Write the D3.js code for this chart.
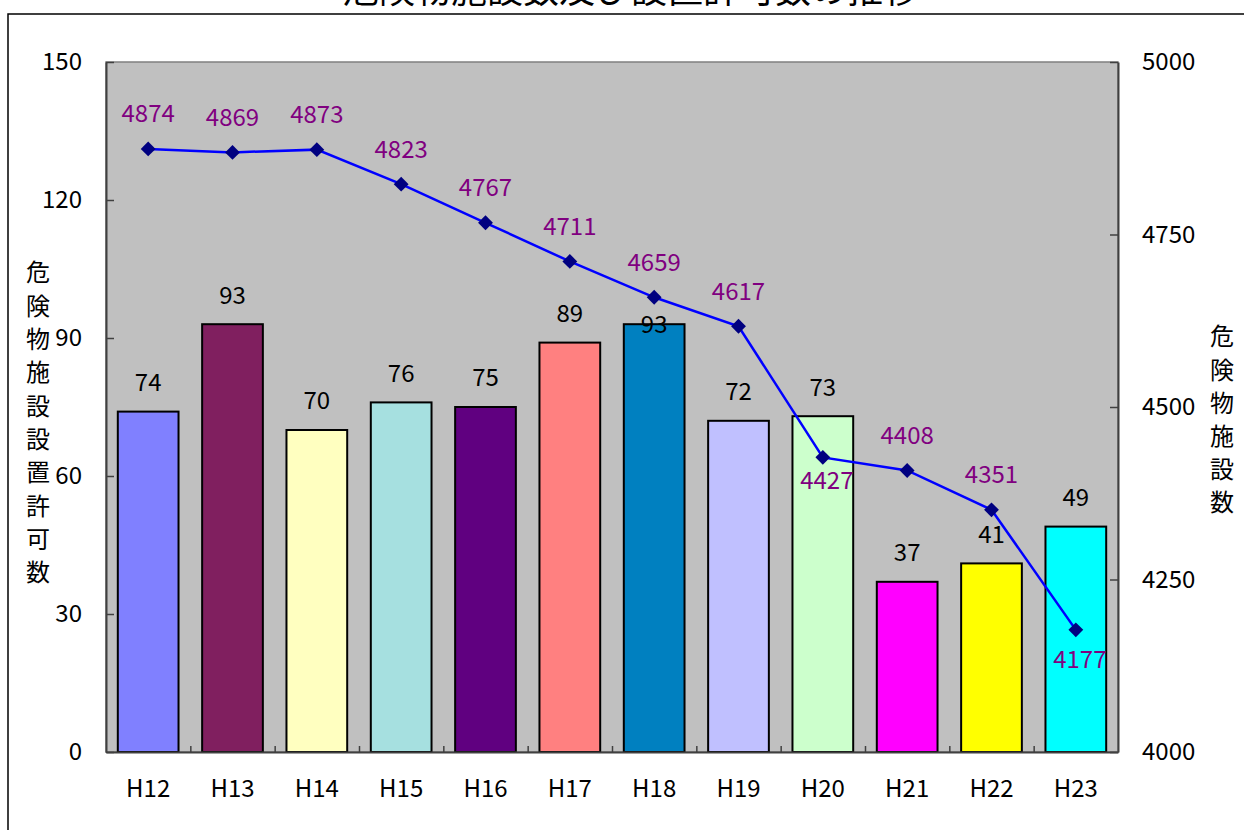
<!DOCTYPE html>
<html>
<head>
<meta charset="utf-8">
<script src="https://cdn.jsdelivr.net/npm/d3@7"></script>
<style>
  body { margin: 0; background: #fff; }
  text { font-family: "Noto Sans CJK JP", "Noto Sans", sans-serif; }
</style>
</head>
<body>
<svg id="chart" width="1244" height="830"></svg>
<script>
// data
var years = ["H12","H13","H14","H15","H16","H17","H18","H19","H20","H21","H22","H23"];
var permits = [74, 93, 70, 76, 75, 89, 93, 72, 73, 37, 41, 49];
var facilities = [4874, 4869, 4873, 4823, 4767, 4711, 4659, 4617, 4427, 4408, 4351, 4177];
var barColors = ["#8080ff","#801f5f","#ffffc0","#a6e0e0","#600080","#ff8080",
                 "#0080c0","#c0c0ff","#ccffcc","#ff00ff","#ffff00","#00ffff"];
var leftTicks = [0, 30, 60, 90, 120, 150];
var rightTicks = [4000, 4250, 4500, 4750, 5000];

var svg = d3.select("#chart");
var plotLeft = 106, plotRight = 1118, plotTop = 62, plotBottom = 752;
var fontSize = "24px";

// outer chart frame (runs past the picture edge)
svg.append("rect")
	.attr("x", 8).attr("y", 14)
	.attr("width", 1300).attr("height", 900)
	.attr("fill", "#fff")
	.attr("stroke", "#000")
	.attr("stroke-width", 1.5);

// title, mostly cut off at the top
svg.append("text")
	.attr("x", 631).attr("y", 3)
	.attr("text-anchor", "middle")
	.style("font-size", "36px")
	.text("危険物施設数及び設置許可数の推移");

// scales
var x = d3.scaleBand().domain(years).range([plotLeft, plotRight])
	.paddingInner(0.28).paddingOuter(0.14);
var yL = d3.scaleLinear().domain([0, 150]).range([plotBottom, plotTop]);
var yR = d3.scaleLinear().domain([4000, 5000]).range([plotBottom, plotTop]);
var bw = x.bandwidth();

// plot area
svg.append("rect")
	.attr("x", plotLeft).attr("y", plotTop)
	.attr("width", plotRight - plotLeft).attr("height", plotBottom - plotTop)
	.attr("fill", "#c0c0c0")
	.attr("stroke", "#808080")
	.attr("stroke-width", 1.5);

// bars
svg.append("g")
	.selectAll("rect")
	.data(permits)
	.enter()
	.append("rect")
	.attr("x", function(d, i) { return x(years[i]); })
	.attr("y", function(d) { return yL(d); })
	.attr("width", bw)
	.attr("height", function(d) { return yL(0) - yL(d); })
	.attr("fill", function(d, i) { return barColors[i]; })
	.attr("stroke", "#000")
	.attr("stroke-width", 2);

// axes
function styleAxis(g) {
	g.select(".domain").attr("stroke", "#404040").attr("stroke-width", 2);
	g.selectAll(".tick line").attr("stroke", "#404040").attr("stroke-width", 1.5);
	g.selectAll("text").attr("fill", "#000").style("font-size", fontSize)
		.style("font-family", "'Noto Sans CJK JP', sans-serif");
}

svg.append("g")
	.attr("transform", "translate(" + plotLeft + ",0)")
	.call(d3.axisLeft(yL).tickValues(leftTicks).tickSize(-8).tickPadding(24).tickSizeOuter(0))
	.call(styleAxis);

svg.append("g")
	.attr("transform", "translate(" + plotRight + ",0)")
	.call(d3.axisRight(yR).tickValues(rightTicks).tickFormat(d3.format("d"))
		.tickSize(-8).tickPadding(24).tickSizeOuter(0))
	.call(styleAxis);

// category separators on the bottom axis
var xSep = d3.scaleLinear().domain([0, years.length]).range([plotLeft, plotRight]);
svg.append("g")
	.attr("transform", "translate(0," + plotBottom + ")")
	.call(d3.axisBottom(xSep).tickValues(d3.range(1, years.length)).tickSize(-6).tickFormat("").tickSizeOuter(0))
	.call(styleAxis);

svg.append("g")
	.attr("transform", "translate(0," + plotBottom + ")")
	.call(d3.axisBottom(x).tickSize(0).tickPadding(28))
	.call(function(g) {
		g.select(".domain").remove();
		g.selectAll("text").attr("fill", "#000").style("font-size", fontSize)
			.style("font-family", "'Noto Sans CJK JP', sans-serif");
	});

// bar value labels
svg.append("g")
	.selectAll("text")
	.data(permits)
	.enter()
	.append("text")
	.attr("x", function(d, i) { return x(years[i]) + bw / 2; })
	.attr("y", function(d, i) { return yL(d) - (i === 6 ? 0 : 29); })
	.attr("dy", "0.35em")
	.attr("text-anchor", "middle")
	.style("font-size", fontSize)
	.text(function(d) { return d; });

// facilities line
var line = d3.line()
	.x(function(d, i) { return x(years[i]) + bw / 2; })
	.y(function(d) { return yR(d); });

svg.append("path")
	.datum(facilities)
	.attr("d", line)
	.attr("fill", "none")
	.attr("stroke", "#0000ff")
	.attr("stroke-width", 2.5);

svg.append("g")
	.selectAll("path")
	.data(facilities)
	.enter()
	.append("path")
	.attr("d", d3.symbol(d3.symbolSquare, 110))
	.attr("transform", function(d, i) {
		return "translate(" + (x(years[i]) + bw / 2) + "," + yR(d) + ") rotate(45)";
	})
	.attr("fill", "#000080");

// labels below the point for H20 and H23
var below = { 8: 23, 11: 30 };
svg.append("g")
	.selectAll("text")
	.data(facilities)
	.enter()
	.append("text")
	.attr("x", function(d, i) { return x(years[i]) + bw / 2 + (below[i] ? 4 : 0); })
	.attr("y", function(d, i) { return yR(d) + (below[i] ? below[i] : -35); })
	.attr("dy", "0.35em")
	.attr("text-anchor", "middle")
	.attr("fill", "#800080")
	.style("font-size", fontSize)
	.text(function(d) { return d; });

// axis titles, written vertically one character per line
function verticalTitle(str, cx, cy0, step) {
	svg.append("g")
		.selectAll("text")
		.data(str.split(""))
		.enter()
		.append("text")
		.attr("x", cx)
		.attr("y", function(d, i) { return cy0 + i * step; })
		.attr("dy", "0.35em")
		.attr("text-anchor", "middle")
		.style("font-size", "24px")
		.text(function(d) { return d; });
}
verticalTitle("危険物施設設置許可数", 38, 273, 33.3);
verticalTitle("危険物施設数", 1222, 337, 33.2);
</script>
</body>
</html>
